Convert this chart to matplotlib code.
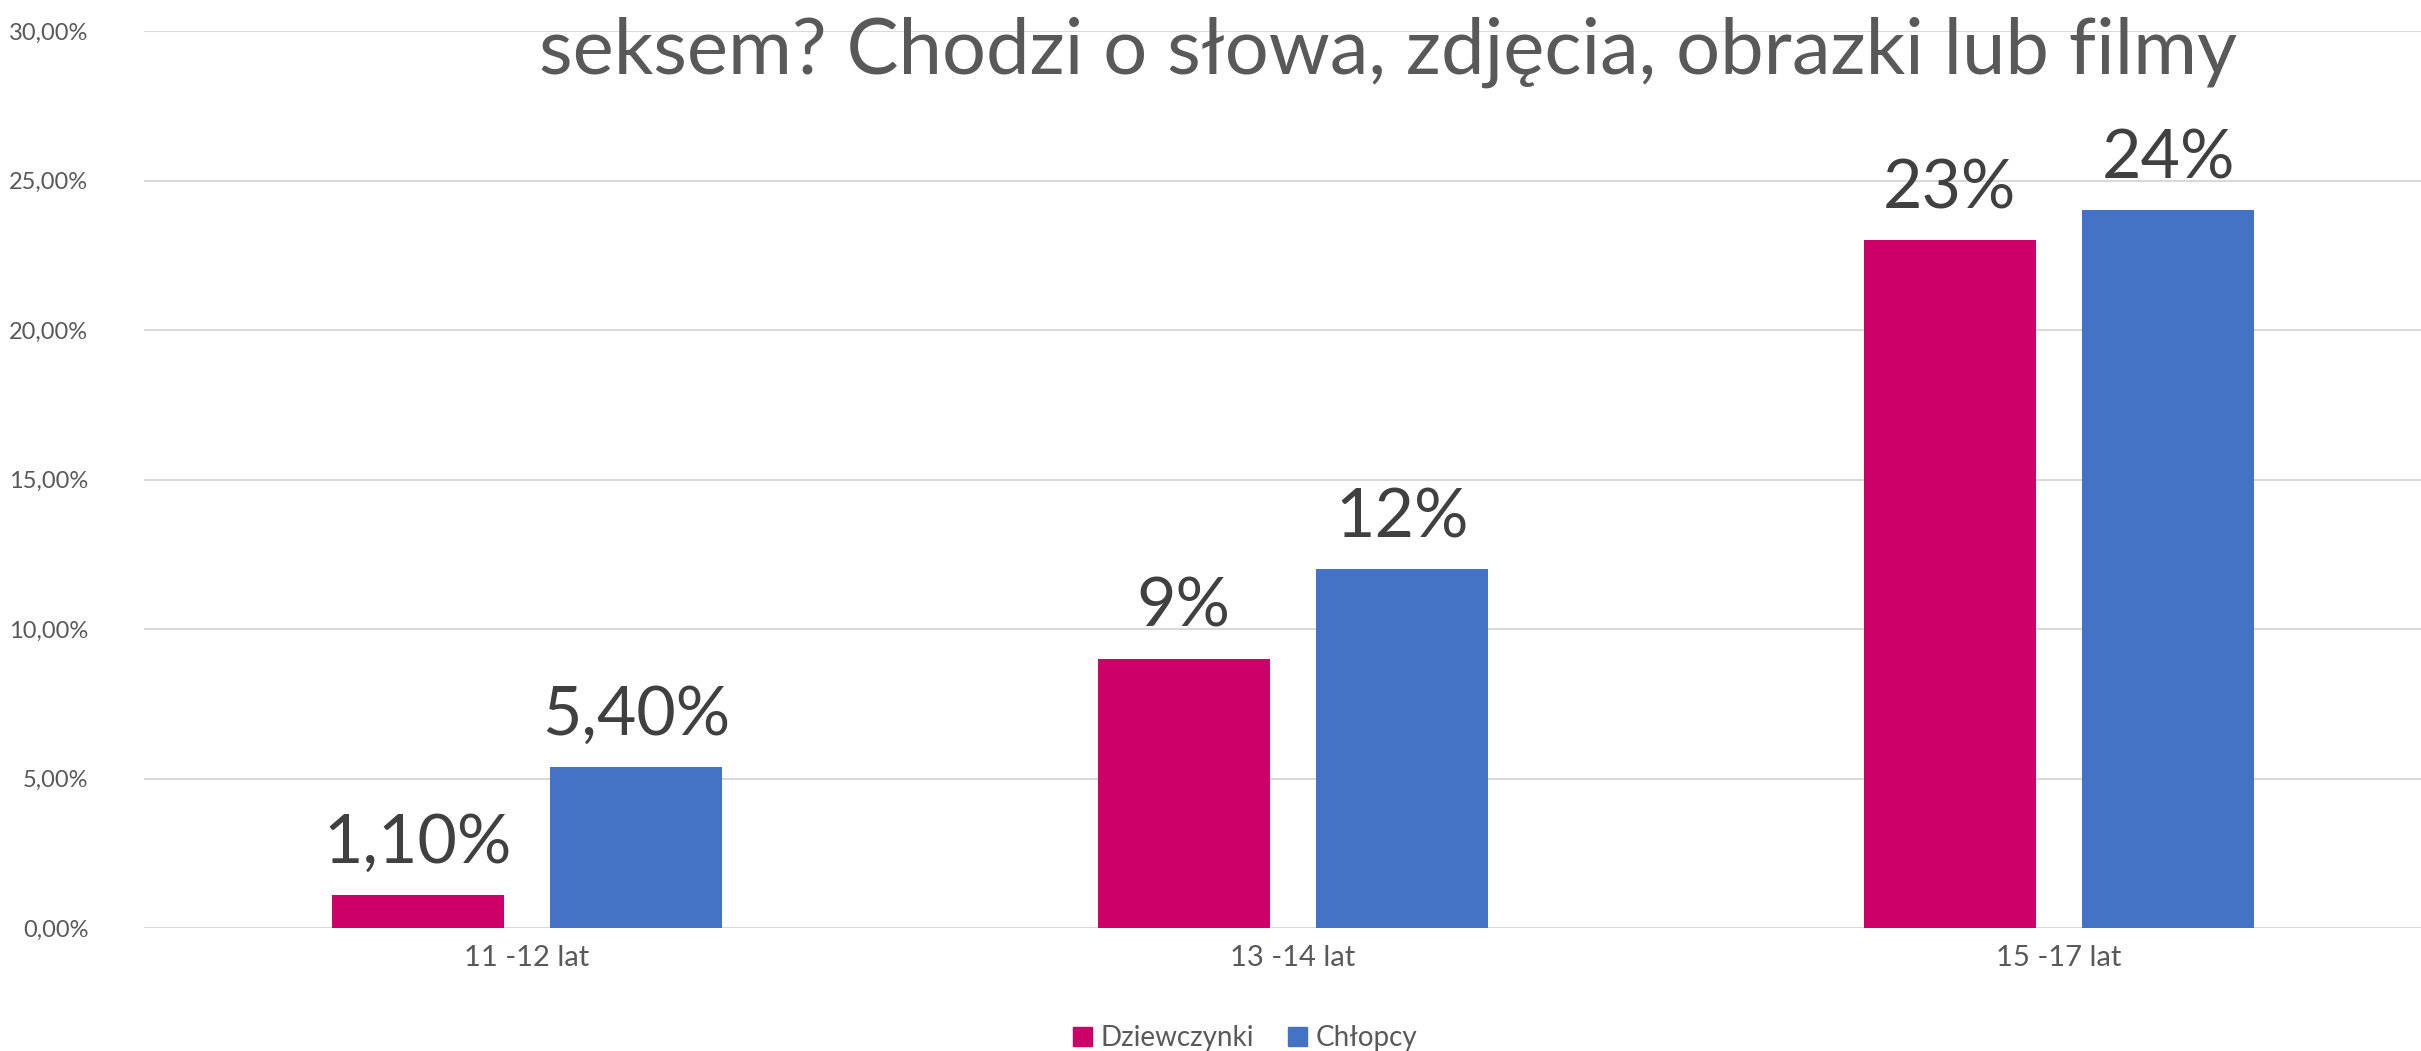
import matplotlib
matplotlib.use("Agg")
import matplotlib.pyplot as plt
from matplotlib.patches import Patch
import numpy as np

categories = ["11 -12 lat", "13 -14 lat", "15 -17 lat"]
series_names = ["Dziewczynki", "Chłopcy"]
girls = [0.011, 0.09, 0.23]
boys = [0.054, 0.12, 0.24]
girls_labels = ["1,10%", "9%", "23%"]
boys_labels = ["5,40%", "12%", "24%"]
yticks = [0.0, 0.05, 0.10, 0.15, 0.20, 0.25, 0.30]
ytick_labels = ["0,00%", "5,00%", "10,00%", "15,00%", "20,00%", "25,00%", "30,00%"]
title = "seksem? Chodzi o słowa, zdjęcia, obrazki lub filmy"

pink = "#CC0066"
blue = "#4472C4"
grey = "#595959"
dark = "#404040"
FONT = ["Lato", "DejaVu Sans"]
plt.rcParams["font.family"] = FONT

W, H = 2421, 1051
fig = plt.figure(figsize=(W / 100, H / 100), dpi=100)
ax = fig.add_axes([144 / W, (H - 928) / H, 1 - 144 / W, (928 - 31) / H])

x = np.arange(len(categories))
bw = 0.2245
off = 0.1425
b1 = ax.bar(x - off, girls, bw, color=pink, zorder=3)
b2 = ax.bar(x + off, boys, bw, color=blue, zorder=3)

for bars, labs in ((b1, girls_labels), (b2, boys_labels)):
    for r, lab in zip(bars, labs):
        ax.annotate(lab, (r.get_x() + r.get_width() / 2, r.get_height()),
                    xytext=(0, 20), textcoords="offset pixels",
                    ha="center", va="bottom", fontsize=49, color=dark)

ax.set_xlim(-0.5, 2.4726)
ax.set_ylim(0, 0.30)
ax.set_yticks(yticks)
ax.set_yticklabels(ytick_labels)
ax.set_xticks(x)
ax.set_xticklabels(categories)
ax.tick_params(axis="y", length=0, pad=40, labelsize=17, labelcolor=grey)
ax.tick_params(axis="x", length=0, pad=12, labelsize=21, labelcolor=grey)
ax.grid(axis="y", color="#D9D9D9", linewidth=1.5, zorder=0)
for s in ax.spines.values():
    s.set_visible(False)

fig.text(1388 / W, (H - 74) / H, title, ha="center", va="baseline",
         fontsize=56, color=grey)

handles = [Patch(color=pink), Patch(color=blue)]
fig.legend(handles, series_names, loc="center", bbox_to_anchor=(1245 / W, (H - 1038) / H),
           ncol=2, frameon=False, fontsize=20, labelcolor=grey,
           handlelength=0.7, handleheight=0.7, handletextpad=0.3, columnspacing=1.2)

fig.savefig("out.png", dpi=100)
